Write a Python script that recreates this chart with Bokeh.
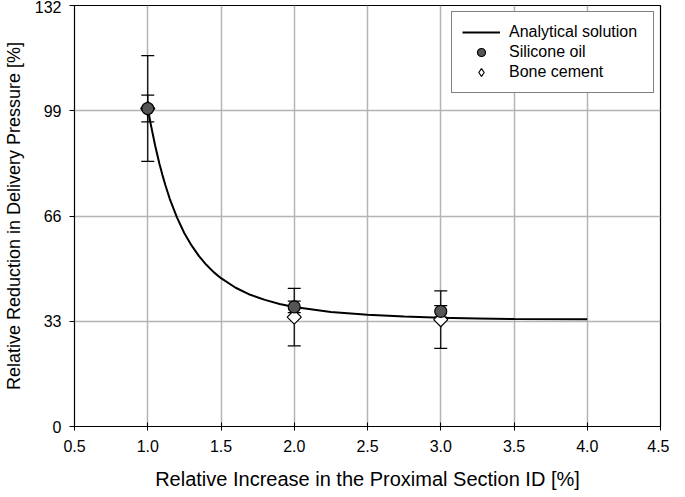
import math
from bokeh.plotting import figure
from bokeh.models import ColumnDataSource, Whisker, FixedTicker, Legend, LegendItem, TeeHead, NumeralTickFormatter
from bokeh.embed import file_html
from bokeh.resources import INLINE

# Analytical solution
curve_x = [1.0, 1.02, 1.05, 1.08, 1.1, 1.12, 1.15, 1.2, 1.25, 1.3, 1.35, 1.4, 1.45, 1.5,
           1.6, 1.7, 1.8, 1.9, 2.0, 2.25, 2.5, 2.75, 3.0, 3.25, 3.5, 4.0]
curve_y = [100.0, 94.9, 88.2, 82.3, 78.9, 75.7, 71.4, 65.5, 60.6, 56.7, 53.4, 50.7, 48.4, 46.5,
           43.5, 41.3, 39.7, 38.4, 37.5, 35.9, 35.0, 34.5, 34.1, 33.9, 33.7, 33.6]

# Silicone oil
sil_x = [1.0, 2.0, 3.0]
sil_y = [99.7, 37.5, 36.1]
sil_err = [4.2, 1.8, 1.8]

# Bone cement
bone_x = [1.0, 2.0, 3.0]
bone_y = [99.7, 34.3, 33.5]
bone_err = [16.6, 9.0, 9.0]

x_ticks = [0.5, 1.0, 1.5, 2.0, 2.5, 3.0, 3.5, 4.0, 4.5]
y_ticks = [0, 33, 66, 99, 132]

x_title = "Relative Increase in the Proximal Section ID [%]"
y_title = "Relative Reduction in Delivery Pressure [%]"

FONT = "Liberation Sans"

p = figure(width=669, height=497, x_range=(0.5, 4.5), y_range=(0, 132),
           output_backend="svg", toolbar_location=None,
           min_border_left=67, min_border_right=9, min_border_top=5, min_border_bottom=71)
p.background_fill_color = "white"
p.border_fill_color = "white"
p.outline_line_color = "black"
p.outline_line_width = 1.2

p.xaxis.ticker = FixedTicker(ticks=x_ticks)
p.yaxis.ticker = FixedTicker(ticks=y_ticks)
p.xaxis.formatter = NumeralTickFormatter(format="0.0")
p.xaxis.axis_label = x_title
p.yaxis.axis_label = y_title
for ax in (p.xaxis, p.yaxis):
    ax.axis_label_text_font = FONT
    ax.axis_label_text_font_style = "normal"
    ax.axis_label_text_color = "black"
    ax.major_label_text_font = FONT
    ax.major_label_text_font_size = "16px"
    ax.major_label_text_color = "black"
    ax.axis_line_color = "black"
    ax.major_tick_line_color = "black"
    ax.minor_tick_line_color = None
p.xaxis.axis_label_text_font_size = "20px"
p.yaxis.axis_label_text_font_size = "18px"
p.xaxis.major_tick_in = 4
p.xaxis.major_tick_out = 4
p.yaxis.major_tick_in = 0
p.yaxis.major_tick_out = 5
p.xaxis.major_label_standoff = 9
p.yaxis.major_label_standoff = 8
p.xaxis.axis_label_standoff = 13
p.yaxis.axis_label_standoff = 8

p.grid.grid_line_color = "#b4b4b4"
p.grid.grid_line_width = 1.5

src_c = ColumnDataSource(dict(x=curve_x, y=curve_y))
line_r = p.line("x", "y", source=src_c, line_color="black", line_width=2)

bone_src = ColumnDataSource(dict(x=bone_x, y=bone_y,
                                 lo=[v - e for v, e in zip(bone_y, bone_err)],
                                 hi=[v + e for v, e in zip(bone_y, bone_err)]))
sil_src = ColumnDataSource(dict(x=sil_x, y=sil_y,
                                lo=[v - e for v, e in zip(sil_y, sil_err)],
                                hi=[v + e for v, e in zip(sil_y, sil_err)]))

bone_r = p.scatter("x", "y", source=bone_src, marker="square", size=10, angle=math.pi / 4,
                   fill_color="white", line_color="black", line_width=1.2)

for src in (bone_src, sil_src):
    w = Whisker(source=src, base="x", lower="lo", upper="hi", dimension="height",
                line_color="black", line_width=1.2,
                upper_head=TeeHead(size=13, line_color="black", line_width=1.2),
                lower_head=TeeHead(size=13, line_color="black", line_width=1.2))
    p.add_layout(w)

sil_r = p.scatter("x", "y", source=sil_src, marker="circle", size=12,
                  fill_color="#555555", line_color="black", line_width=1.2)

# hidden renderer that only supplies the diamond symbol for the legend
bone_leg = p.scatter("x", "y", source=bone_src, marker="diamond", size=19,
                     fill_color="white", line_color="black", line_width=1.2, visible=False)

legend = Legend(items=[
    LegendItem(label="Analytical solution", renderers=[line_r]),
    LegendItem(label="Silicone oil", renderers=[sil_r]),
    LegendItem(label="Bone cement", renderers=[bone_leg]),
], location="top_right")
legend.label_text_font = FONT
legend.label_text_font_size = "16px"
legend.label_text_color = "black"
legend.border_line_color = "black"
legend.border_line_width = 1
legend.background_fill_alpha = 1
legend.glyph_width = 38
legend.glyph_height = 20
legend.label_height = 20
legend.label_width = 134
legend.label_standoff = 9
legend.spacing = 0
legend.padding = 10
legend.margin = 6
p.add_layout(legend)

open("out.html", "w").write(file_html(p, INLINE))
